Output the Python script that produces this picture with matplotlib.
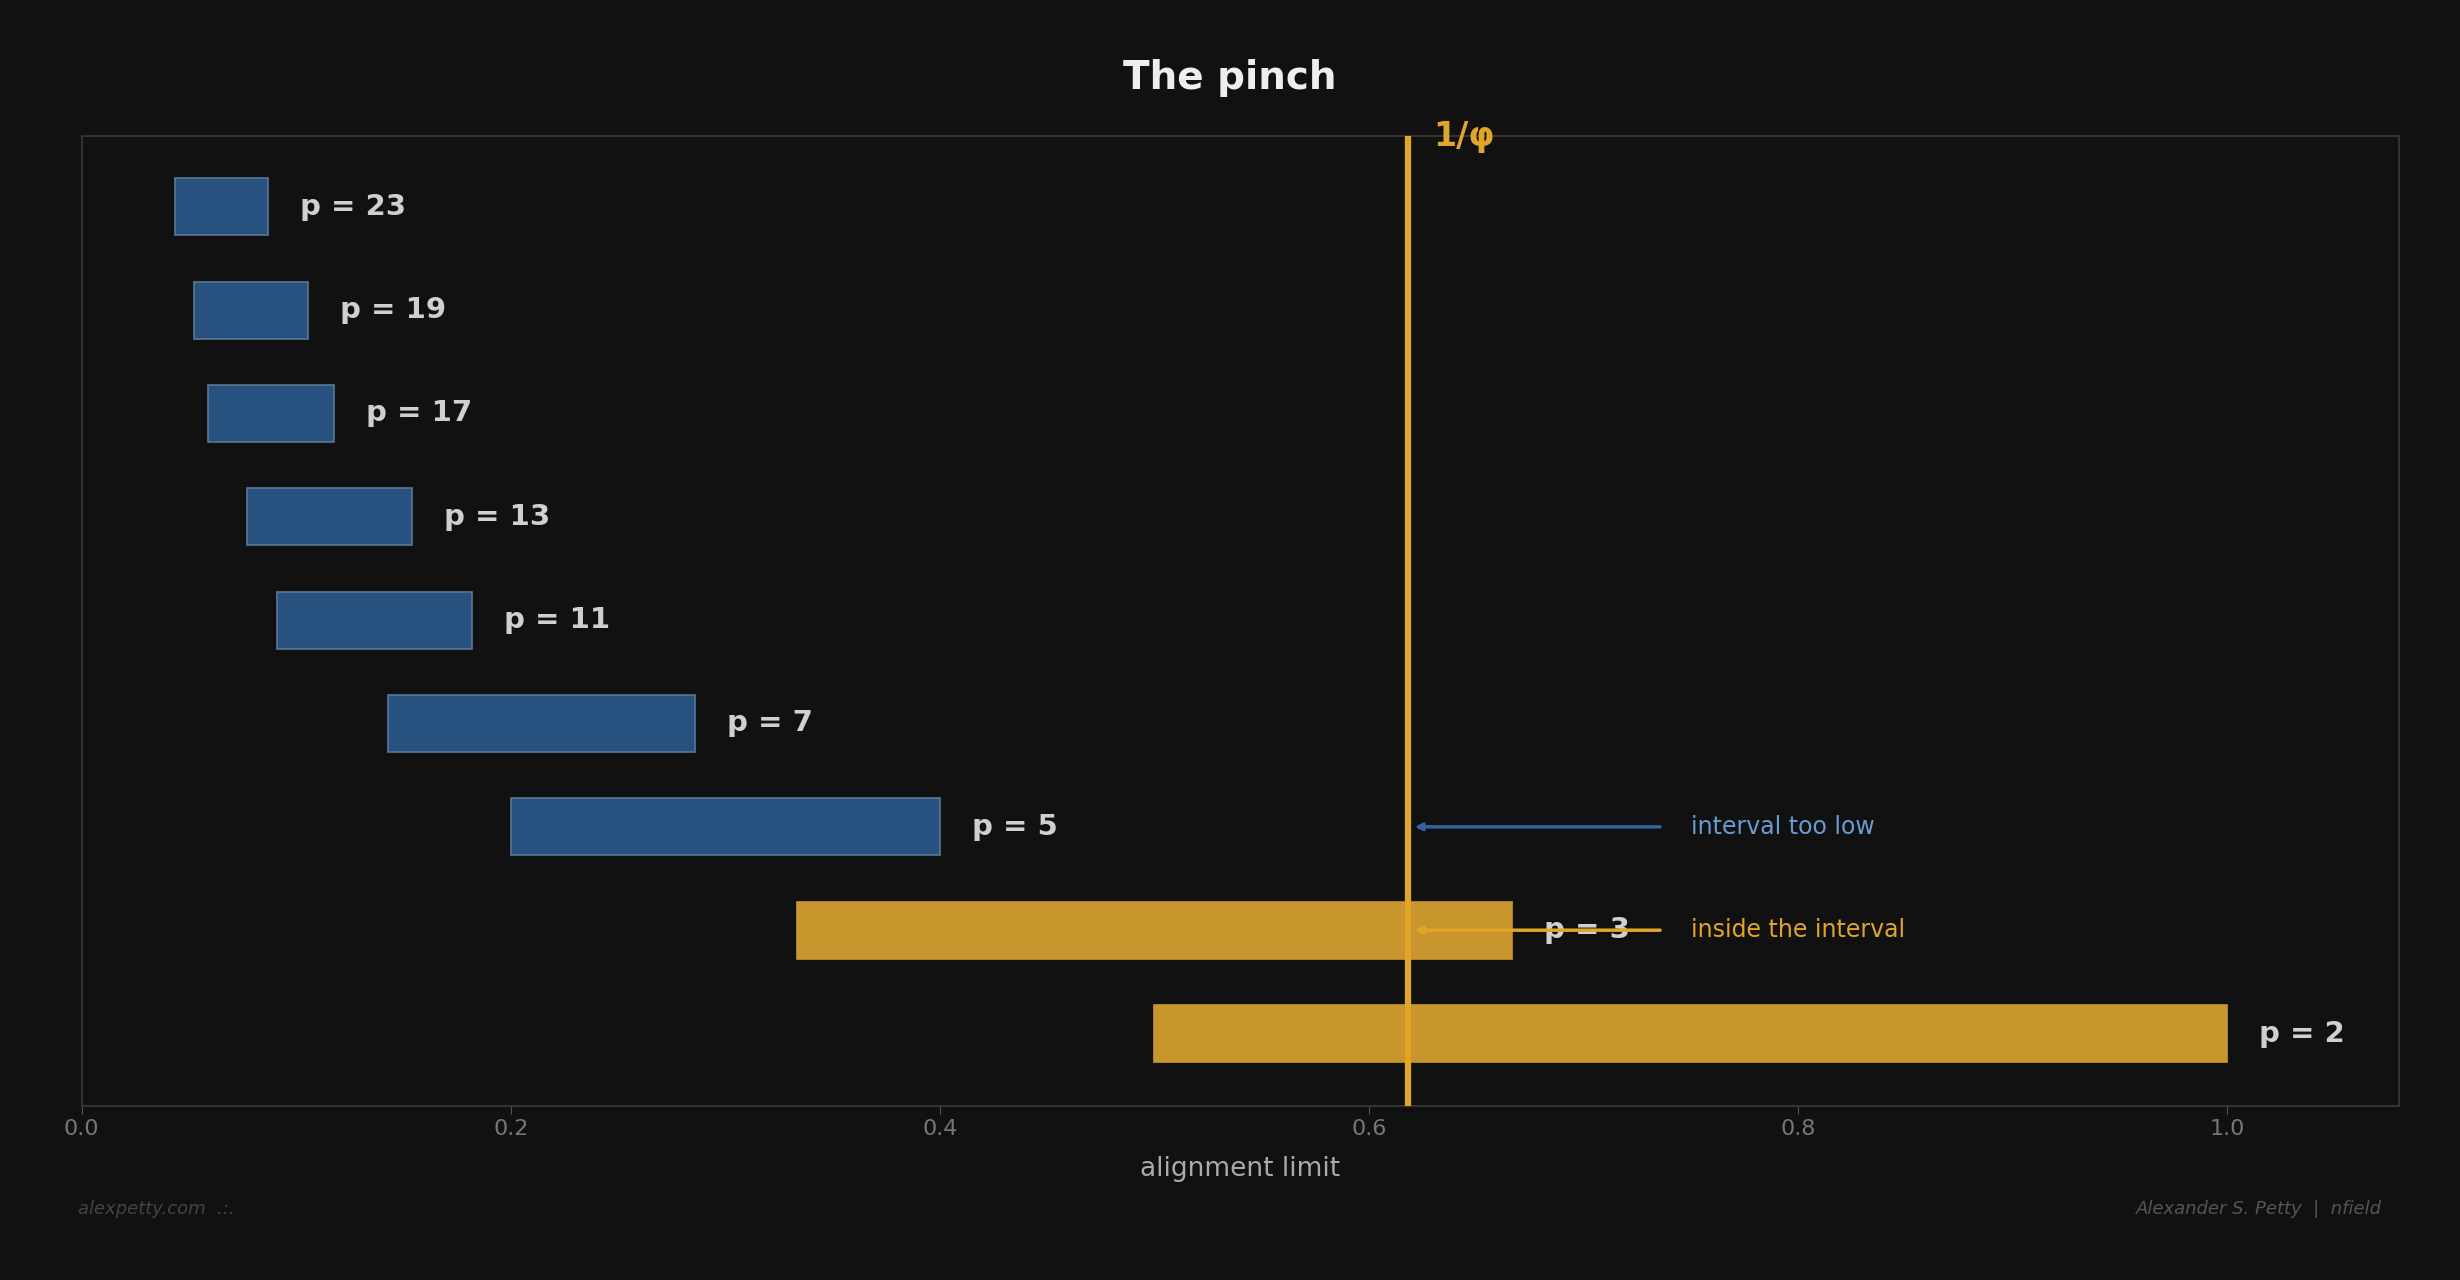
import matplotlib
matplotlib.use("Agg")
import matplotlib.pyplot as plt

primes = [2, 3, 5, 7, 11, 13, 17, 19, 23]
lows = [0.5, 0.3333, 0.2, 0.1429, 0.0909, 0.0769, 0.0588, 0.0526, 0.0435]
highs = [1.0, 0.6667, 0.4, 0.2857, 0.1818, 0.1538, 0.1176, 0.1053, 0.0870]
inv_phi = 0.618

BG = "#111111"
BLUE = "#27527f"
GOLD = "#c9962e"
LINE = "#e0a52a"

fig = plt.figure(figsize=(24.6, 12.8), dpi=100, facecolor=BG)
ax = fig.add_axes([52/1568, 1-705/816, (1529-52)/1568, (705-87)/816])
ax.set_facecolor(BG)

for i, (p, lo, hi) in enumerate(zip(primes, lows, highs)):
    inside = lo <= inv_phi <= hi
    ax.barh(i, hi - lo, left=lo, height=0.55,
            color=GOLD if inside else BLUE,
            edgecolor="#c9962e" if inside else "#5a7896", linewidth=1.2, zorder=2)
    ax.text(hi + 0.015, i, f"p = {p}", color="#d0d0d0", fontsize=21,
            fontweight="bold", va="center", ha="left", zorder=3)

ax.axvline(inv_phi, color=LINE, lw=4.5, zorder=4)
ax.text(inv_phi + 0.012, 8.68, "1/φ", color=LINE, fontsize=24, fontweight="bold",
        va="center", ha="left", clip_on=False)

ax.annotate("", xy=(inv_phi + 0.002, 2), xytext=(0.737, 2),
            arrowprops=dict(arrowstyle="->", color="#2f64a0", lw=2.5), zorder=5)
ax.text(0.75, 2, "interval too low", color="#6a9bd0", fontsize=17, va="center")
ax.annotate("", xy=(inv_phi + 0.002, 1), xytext=(0.737, 1),
            arrowprops=dict(arrowstyle="->", color=LINE, lw=2.5), zorder=5)
ax.text(0.75, 1, "inside the interval", color=LINE, fontsize=17, va="center")

ax.set_xlim(0, 1.08)
ax.set_ylim(-0.7, 8.68)
ax.set_yticks([])
ax.set_xticks([0, 0.2, 0.4, 0.6, 0.8, 1.0])
ax.set_xticklabels(["0.0", "0.2", "0.4", "0.6", "0.8", "1.0"])
ax.tick_params(axis="x", colors="#555555", labelcolor="#777777", labelsize=16, length=6)
for s in ax.spines.values():
    s.set_color("#333333")
    s.set_linewidth(1.5)
ax.set_xlabel("alignment limit", color="#aaaaaa", fontsize=19, labelpad=12)

fig.text(0.5, 1-50/816, "The pinch", color="#eeeeee", fontsize=28,
         fontweight="bold", ha="center", va="center")
fig.text(50/1568, 1-771/816, "alexpetty.com  .:.", color="#444444", fontsize=13,
         style="italic", ha="left", va="center")
fig.text(1518/1568, 1-771/816, "Alexander S. Petty  |  nfield", color="#555555",
         fontsize=13, style="italic", ha="right", va="center")

fig.savefig("out.png", dpi=100, facecolor=BG)
